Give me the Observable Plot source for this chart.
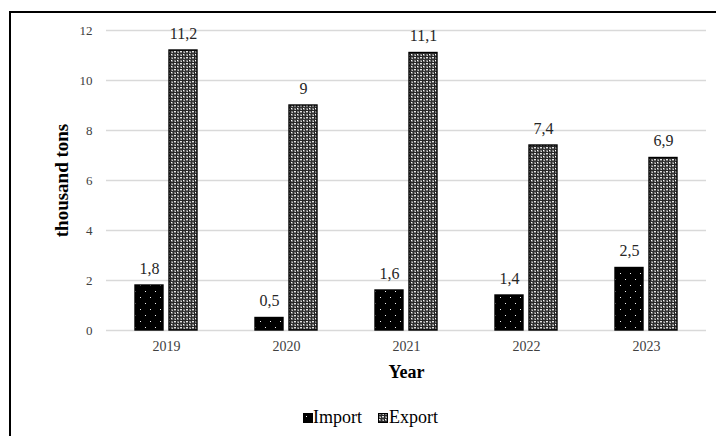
<!DOCTYPE html>
<html>
<head>
<meta charset="utf-8">
<script src="https://cdn.jsdelivr.net/npm/d3@7"></script>
<script src="https://cdn.jsdelivr.net/npm/@observablehq/plot@0.6"></script>
<style>
  html, body { margin: 0; padding: 0; background: #fff; }
  body { width: 716px; height: 436px; overflow: hidden; position: relative;
         font-family: "Liberation Serif", "Times New Roman", serif; }
  #frame { position: absolute; left: 9px; top: 11px; width: 800px; height: 500px;
           border-top: 2px solid #000; border-left: 2px solid #000; box-sizing: border-box; }
  #chart { position: absolute; left: 0; top: 0; }
  #chart g[aria-label="y-axis label"] text { font-weight: bold; font-size: 19px; fill: #000; }
  #chart g[aria-label="fx-axis label"] text { font-weight: bold; font-size: 18px; fill: #000; }
  .legend-swatch { position: absolute; top: 413px; }
  .legend-text { position: absolute; top: 408px; font-size: 18px; line-height: 18px; color: #000; white-space: nowrap; }
</style>
</head>
<body>
<div id="frame"></div>
<div id="chart"></div>
<div id="legend"></div>
<script>
// Yearly trade volumes, thousand tons
const years = ["2019", "2020", "2021", "2022", "2023"];
const importValues = [1.8, 0.5, 1.6, 1.4, 2.5];
const exportValues = [11.2, 9, 11.1, 7.4, 6.9];
const seriesNames = ["Import", "Export"];
const yTicks = [0, 2, 4, 6, 8, 10, 12];
const yLabel = "thousand tons";
const xLabel = "Year";

const patternIds = ["import-dots", "export-mesh"];

const rows = years.flatMap((year, i) => [
  {year, series: seriesNames[0], value: importValues[i]},
  {year, series: seriesNames[1], value: exportValues[i]}
]);

// Decimal comma, as in the source figures
const fmt = v => String(v).replace(".", ",");

const chart = Plot.plot({
  width: 716,
  height: 390,
  marginLeft: 104,
  marginRight: 8,
  marginTop: 30,
  marginBottom: 60,
  style: {fontFamily: '"Liberation Serif", "Times New Roman", serif', background: "transparent", overflow: "visible"},
  fx: {domain: years, paddingInner: 0, paddingOuter: 0},
  x: {domain: seriesNames, paddingInner: 0.17, paddingOuter: 0.81, axis: null},
  y: {domain: [0, 12]},
  color: {domain: seriesNames, range: patternIds.map(id => `url(#${id})`)},
  marks: [
    Plot.gridY(yTicks, {stroke: "#d9d9d9", strokeOpacity: 1, strokeWidth: 1.3}),
    Plot.axisY(yTicks, {tickSize: 0, tickPadding: 14, fontSize: 13, fill: "#404040",
                        label: yLabel, labelArrow: "none", labelAnchor: "center", labelOffset: 52}),
    Plot.axisFx({anchor: "bottom", tickSize: 0, tickPadding: 11, fontSize: 14, fill: "#404040",
                 label: xLabel, labelArrow: "none", labelAnchor: "center", labelOffset: 47}),
    Plot.barY(rows, {fx: "year", x: "series", y: "value", fill: "series", stroke: "#000", strokeWidth: 1.4}),
    Plot.text(rows, {fx: "year", x: "series", y: "value", text: d => fmt(d.value),
                     dy: -17, fontSize: 16, fill: "#262626"})
  ]
});

// Plain axis titles, without direction arrows
d3.select(chart).selectAll('g[aria-label="y-axis label"] text').text(yLabel);
d3.select(chart).selectAll('g[aria-label="fx-axis label"] text').text(xLabel);

// Fill patterns: black with white dots for imports, a grey mesh for exports
const defs = d3.select(chart).insert("defs", ":first-child");
const dots = defs.append("pattern").attr("id", patternIds[0])
  .attr("patternUnits", "userSpaceOnUse").attr("width", 10).attr("height", 12);
dots.append("rect").attr("width", 10).attr("height", 12).attr("fill", "#000");
dots.append("rect").attr("x", 3).attr("y", 3).attr("width", 1).attr("height", 1).attr("fill", "#f0f0f0");
dots.append("rect").attr("x", 8).attr("y", 9).attr("width", 1).attr("height", 1).attr("fill", "#f0f0f0");

const mesh = defs.append("pattern").attr("id", patternIds[1])
  .attr("patternUnits", "userSpaceOnUse").attr("width", 6).attr("height", 6);
mesh.append("rect").attr("width", 6).attr("height", 6).attr("fill", "#7a7a7a");
[[0, 0, 1, 6, "#1e1e1e"], [3, 0, 1, 6, "#2e2e2e"], [0, 2, 6, 1, "#262626"], [0, 5, 6, 1, "#333"],
 [1, 0, 1, 1, "#ffffff"], [4, 3, 2, 1, "#e6e6e6"], [2, 4, 1, 1, "#bdbdbd"], [5, 1, 1, 1, "#d0d0d0"]]
  .forEach(([x, y, w, h, c]) => mesh.append("rect").attr("x", x).attr("y", y)
    .attr("width", w).attr("height", h).attr("fill", c));

document.getElementById("chart").appendChild(chart);

// Legend below the plot
const legend = d3.select("#legend");
const swatchLeft = [303, 378];
const textLeft = [313, 389];
seriesNames.forEach((name, i) => {
  const sw = legend.append("svg").attr("class", "legend-swatch")
    .style("left", swatchLeft[i] + "px").attr("width", 10).attr("height", 10);
  sw.append("rect").attr("x", 0.5).attr("y", 0.5).attr("width", 9).attr("height", 9)
    .attr("fill", `url(#${patternIds[i]})`).attr("stroke", "#000").attr("stroke-width", 1);
  legend.append("span").attr("class", "legend-text").style("left", textLeft[i] + "px").text(name);
});
</script>
</body>
</html>
